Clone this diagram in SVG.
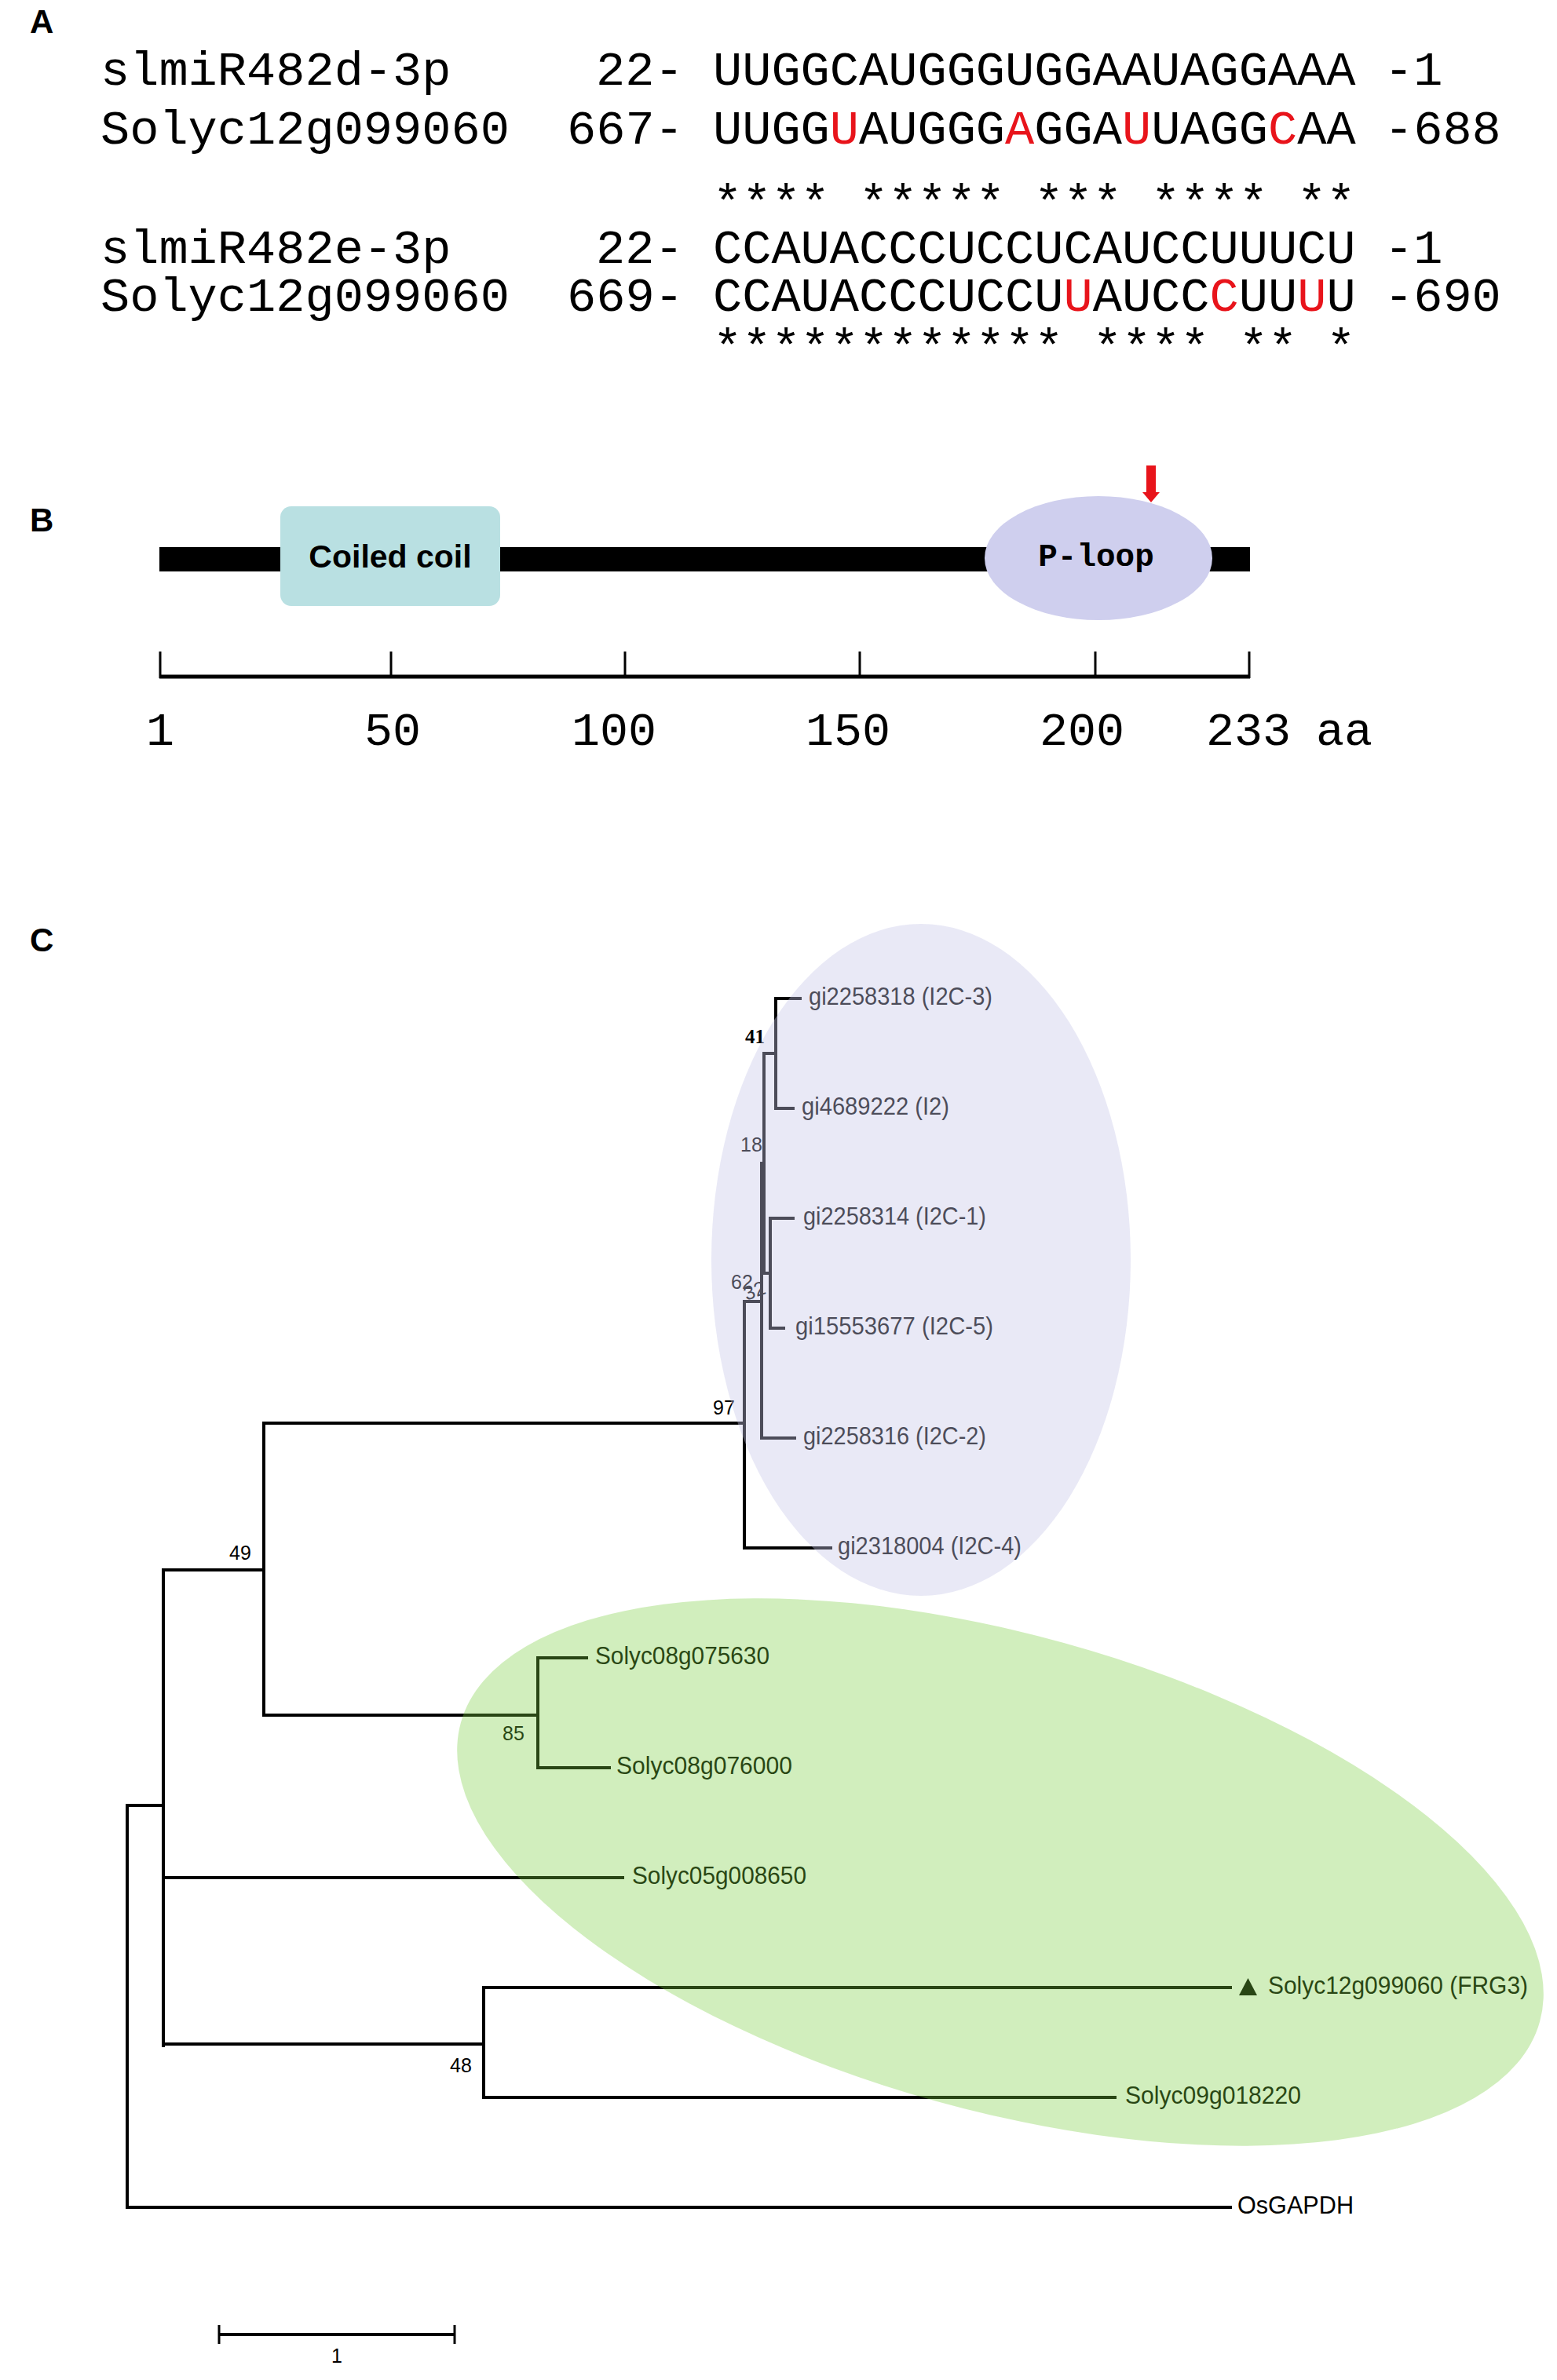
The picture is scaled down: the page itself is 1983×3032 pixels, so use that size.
<svg xmlns="http://www.w3.org/2000/svg" width="1983" height="3032" viewBox="0 0 1983 3032">
<style>
.pl{font-family:"Liberation Sans",Arial,sans-serif;font-weight:bold;font-size:42px;fill:#000}
.mono{font-family:"Courier New","Liberation Mono",monospace;font-size:62px;fill:#000}
.r{fill:#e8141b}
.ax{font-family:"Courier New","Liberation Mono",monospace;font-size:60px;fill:#000}
.br{stroke:#000;stroke-width:4;fill:none;stroke-linecap:square}
.lf{font-family:"Liberation Sans",Arial,sans-serif;font-size:32px;fill:#000}
.bs{font-family:"Liberation Sans",Arial,sans-serif;font-size:25px;fill:#000}
</style>
<rect width="1983" height="3032" fill="#fff"/>

<!-- Panel A -->
<g id="panelA">
<text class="pl" x="38" y="42">A</text>
<text class="mono" x="128" y="108">slmiR482d-3p</text>
<text class="mono" x="759" y="108">22-</text>
<text class="mono" x="908" y="108">UUGGCAUGGGUGGAAUAGGAAA</text>
<text class="mono" x="1763" y="108">-1</text>
<text class="mono" x="128" y="183">Solyc12g099060</text>
<text class="mono" x="722" y="183">667-</text>
<text class="mono" x="908" y="183">UUGG<tspan class="r">U</tspan>AUGGG<tspan class="r">A</tspan>GGA<tspan class="r">U</tspan>UAGG<tspan class="r">C</tspan>AA</text>
<text class="mono" x="1763" y="183">-688</text>
<text class="mono" x="908" y="277">**** ***** *** **** **</text>
<text class="mono" x="128" y="335">slmiR482e-3p</text>
<text class="mono" x="759" y="335">22-</text>
<text class="mono" x="908" y="335">CCAUACCCUCCUCAUCCUUUCU</text>
<text class="mono" x="1763" y="335">-1</text>
<text class="mono" x="128" y="396">Solyc12g099060</text>
<text class="mono" x="722" y="396">669-</text>
<text class="mono" x="908" y="396">CCAUACCCUCCU<tspan class="r">U</tspan>AUCC<tspan class="r">C</tspan>UU<tspan class="r">U</tspan>U</text>
<text class="mono" x="1763" y="396">-690</text>
<text class="mono" x="908" y="461">************ **** ** *</text>
</g>

<!-- Panel B -->
<g id="panelB">
<text class="pl" x="38" y="677">B</text>
<rect id="protein-bar" x="203" y="697" width="1389" height="31" fill="#000"/>
<g id="coiled-coil">
<rect x="357" y="645" width="280" height="127" rx="14" fill="#b9e0e2"/>
<text x="497" y="723" text-anchor="middle" font-family="Liberation Sans, Arial, sans-serif" font-weight="bold" font-size="41" fill="#000">Coiled coil</text>
</g>
<g id="p-loop">
<ellipse cx="1399" cy="711" rx="145" ry="79" fill="#cfcfee"/>
<text x="1396" y="721" text-anchor="middle" font-family="Courier New, Liberation Mono, monospace" font-weight="bold" font-size="41" fill="#000">P-loop</text>
</g>
<g id="red-arrow" fill="#e8141b">
<rect x="1460" y="593" width="12" height="35"/>
<polygon points="1455,627 1477,627 1466,640"/>
</g>
<g id="axis" stroke="#000">
<line x1="203" y1="862" x2="1592" y2="862" stroke-width="5"/>
<line x1="204" y1="830" x2="204" y2="864" stroke-width="3"/>
<line x1="498" y1="830" x2="498" y2="864" stroke-width="3"/>
<line x1="796" y1="830" x2="796" y2="864" stroke-width="3"/>
<line x1="1095" y1="830" x2="1095" y2="864" stroke-width="3"/>
<line x1="1395" y1="830" x2="1395" y2="864" stroke-width="3"/>
<line x1="1591" y1="830" x2="1591" y2="864" stroke-width="3"/>
</g>
<text class="ax" x="204" y="949" text-anchor="middle">1</text>
<text class="ax" x="500" y="949" text-anchor="middle">50</text>
<text class="ax" x="782" y="949" text-anchor="middle">100</text>
<text class="ax" x="1080" y="949" text-anchor="middle">150</text>
<text class="ax" x="1378" y="949" text-anchor="middle">200</text>
<text class="ax" x="1590" y="949" text-anchor="middle">233</text>
<text class="ax" x="1676" y="949">aa</text>
</g>

<!-- Panel C -->
<text class="pl" x="38" y="1212">C</text>

<g id="connectors" class="br">
<path d="M162,2300 V2812 M162,2300 H208"/>
<path d="M208,2000 V2606"/>
<path d="M208,2000 H336 M336,1813 V2185"/>
<path d="M336,1813 H948 M948,1658 V1972"/>
<path d="M948,1658 H970 M970,1482 V1832 M970,1832 H1012"/>
<path d="M970,1482 H973 M973,1342 V1622"/>
<path d="M973,1342 H988 M988,1272 V1412 M988,1272 H1019 M988,1412 H1010"/>
<path d="M973,1622 H981 M981,1552 V1692 M981,1552 H1010 M981,1692 H998"/>
<path d="M948,1972 H1058"/>
<path d="M336,2185 H685 M685,2112 V2252 M685,2112 H747 M685,2252 H776"/>
<path d="M208,2392 H793"/>
<path d="M208,2604 H616 M616,2532 V2672 M616,2532 H1567 M616,2672 H1420"/>
<path d="M162,2812 H1567"/>
</g>

<g id="leaf-gi2258318"><text class="lf" x="1030" y="1280" textLength="234" lengthAdjust="spacingAndGlyphs">gi2258318 (I2C-3)</text></g>
<g id="leaf-gi4689222"><text class="lf" x="1021" y="1420" textLength="188" lengthAdjust="spacingAndGlyphs">gi4689222 (I2)</text></g>
<g id="leaf-gi2258314"><text class="lf" x="1023" y="1560" textLength="233" lengthAdjust="spacingAndGlyphs">gi2258314 (I2C-1)</text></g>
<g id="leaf-gi15553677"><text class="lf" x="1013" y="1700" textLength="252" lengthAdjust="spacingAndGlyphs">gi15553677 (I2C-5)</text></g>
<g id="leaf-gi2258316"><text class="lf" x="1023" y="1840" textLength="233" lengthAdjust="spacingAndGlyphs">gi2258316 (I2C-2)</text></g>
<g id="leaf-gi2318004"><text class="lf" x="1067" y="1980" textLength="234" lengthAdjust="spacingAndGlyphs">gi2318004 (I2C-4)</text></g>
<g id="leaf-Solyc08g075630"><text class="lf" x="758" y="2120" font-size="31" textLength="222" lengthAdjust="spacingAndGlyphs">Solyc08g075630</text></g>
<g id="leaf-Solyc08g076000"><text class="lf" x="785" y="2260" font-size="31" textLength="224" lengthAdjust="spacingAndGlyphs">Solyc08g076000</text></g>
<g id="leaf-Solyc05g008650"><text class="lf" x="805" y="2400" font-size="31" textLength="222" lengthAdjust="spacingAndGlyphs">Solyc05g008650</text></g>
<g id="leaf-Solyc12g099060">
<polygon points="1578,2542 1601,2542 1589.5,2520" fill="#000"/>
<text class="lf" x="1615" y="2540" font-size="31" textLength="331" lengthAdjust="spacingAndGlyphs">Solyc12g099060 (FRG3)</text>
</g>
<g id="leaf-Solyc09g018220"><text class="lf" x="1433" y="2680" font-size="31" textLength="224" lengthAdjust="spacingAndGlyphs">Solyc09g018220</text></g>
<g id="leaf-OsGAPDH"><text class="lf" x="1576" y="2820" font-size="31" textLength="148" lengthAdjust="spacingAndGlyphs">OsGAPDH</text></g>

<g id="bootstrap">
<text x="949" y="1329" font-family="Liberation Serif, Times New Roman, serif" font-weight="bold" font-size="25" fill="#000">41</text>
<text class="bs" x="943" y="1467" font-size="23">18</text>
<text class="bs" x="931" y="1642" font-size="21">62</text>
<text class="bs" x="948" y="1654" font-size="18" transform="rotate(-20 958 1648)">32</text>
<text class="bs" x="908" y="1802">97</text>
<text class="bs" x="292" y="1987">49</text>
<text class="bs" x="640" y="2217">85</text>
<text class="bs" x="573" y="2640">48</text>
</g>

<g id="scale-bar">
<path d="M279,2974 H579" stroke="#000" stroke-width="4"/>
<path d="M279,2962 V2986 M579,2962 V2986" stroke="#000" stroke-width="3"/>
<text class="bs" x="429" y="3010" text-anchor="middle" font-size="24">1</text>
</g>

<!-- clade highlights (translucent overlays) -->
<g id="clade-I2">
<ellipse cx="1173" cy="1605" rx="267" ry="428" fill="rgb(197,197,231)" fill-opacity="0.385"/>
</g>
<g id="clade-Solyc">
<ellipse cx="1274" cy="2385" rx="713" ry="303" transform="rotate(15.5 1274 2385)" fill="rgb(120,204,62)" fill-opacity="0.34"/>
</g>
</svg>
